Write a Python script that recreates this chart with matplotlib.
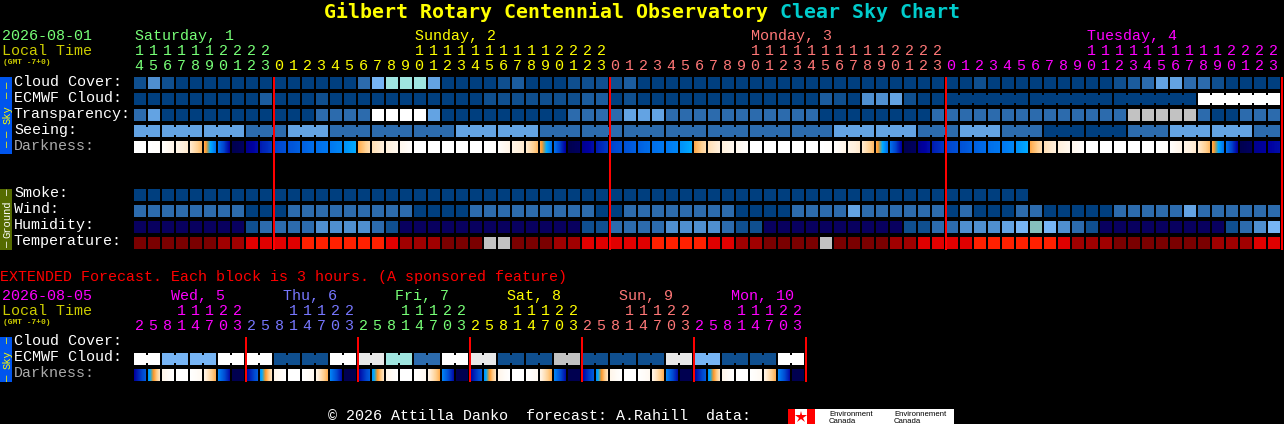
import matplotlib
matplotlib.use("Agg")
import matplotlib.pyplot as plt
import numpy as np
from matplotlib.colors import LinearSegmentedColormap
from matplotlib.patches import Rectangle

# one letter per block, see palette below
cloud_cover = (
    "beb" "aaaaaaaaaaaaa" "dghhhf" "aaaa" "bc" "aaa" "bbbb" "c"
    "aaaaaaaaaaaaaaaaaaaaaa" "aabaaaaaaaaa" "bcdffddbaaaa"
)
ecmwf_cloud = (
    "aaaaaaaaa" "c" "aaa" "b" "aaaaaaaaaaa" "bbbbbbb" "cc" "a" "b" "aaaaaaaaaaaaa"
    "c" "b" "a" "eef" "b" "aa" "aaaaaaaaaaaaaaaaaa" "wwwwww"
)
transparency = (
    "df" "aaaaaaaaaaa" "dddd" "wwww" "f" "aaaaaaaaa" "dddd" "fff" "ddddddddddd"
    "aaaaaaaa" "dddddddddddddd" "xxxxx" "d" "aa" "ddd"
)
seeing = (
    "ff" "fff" "fff" "ddd" "fff" "ddd" "ddd" "ddd" "fff" "fff" "ddd" "ddd" "ddd" "ddd"
    "ddd" "ddd" "ddd" "fff" "fff" "ddd" "fff" "ddd" "aaa" "aaa" "ddd" "fff" "fff" "dd"
)
smoke = "aaaaaaaaaaaaaaaaaaaaaaaaaaaaaaaaaaaaaaaaaaaaaaaaaaaaaaaaaaaaaaaa"
wind = (
    "dddddddd" "aaa" "ddddddddd" "aaaa" "ddddddddd" "aa" "dddddddd" "aaaa" "dddd" "f"
    "dddddd" "a" "d" "aaa" "dd" "aaaaa" "ddddd" "f" "dddddd"
)
humidity = (
    "nnnnnnnn" "b" "dddd" "eeee" "d" "b" "nnnnnnnnnnnnn" "bb" "dddd" "eeee" "d" "bb"
    "nnnnnnnnnn" "bb" "dd" "eee" "f" "g" "q" "g" "e" "d" "b" "nnnnnnnnn" "b" "d" "e" "g"
)
temperature = (
    "rrrrrr" "ss" "tttt" "uuuuuu" "t" "sss" "rrr" "xx" "rrr" "ss" "ttttt" "uuuu" "tt"
    "ss" "rrrr" "x" "rrrr" "ss" "tttt" "uuuuuu" "t" "sss" "rrrrrrr" "sss" "tt"
)

seeing_groups = [2] + [3] * 26 + [2]
ecmwf_groups = [6, 6, 6, 6]

# darkness value at left and right edge of each block (0 night .. 8 full sun)
darkness_left = [
    8, 8, 7.9, 7.3, 6.8, 5.3, 2.8, 0, 0.8, 1.4, 1.9, 2.2, 2.5, 2.8, 3, 3.5, 5.3, 6.5, 7, 7.5, 8, 8, 8, 8,
    8, 8, 7.9, 7.3, 6.8, 5.3, 2.8, 0, 0.8, 1.4, 1.9, 2.2, 2.5, 2.8, 3, 3.5, 5.3, 6.5, 7, 7.5, 8, 8, 8, 8,
    8, 8, 7.9, 7.3, 6.8, 5.3, 2.8, 0, 0.8, 1.4, 1.9, 2.2, 2.5, 2.8, 3, 3.5, 5.3, 6.5, 7, 7.5, 8, 8, 8, 8,
    8, 8, 7.9, 7.3, 6.8, 5.3, 2.8, 0, 0.8, 1.0,
]
darkness_right = [
    8, 7.9, 7.3, 6.8, 5.6, 2.9, 1, 0.2, 1.2, 1.8, 2.2, 2.5, 2.8, 3, 3.3, 4, 6.4, 7, 7.5, 7.9, 8, 8, 8, 8,
    8, 7.9, 7.3, 6.8, 5.6, 2.9, 1, 0.2, 1.2, 1.8, 2.2, 2.5, 2.8, 3, 3.3, 4, 6.4, 7, 7.5, 7.9, 8, 8, 8, 8,
    8, 7.9, 7.3, 6.8, 5.6, 2.9, 1, 0.2, 1.2, 1.8, 2.2, 2.5, 2.8, 3, 3.3, 4, 6.4, 7, 7.5, 7.9, 8, 8, 8, 8,
    8, 7.9, 7.3, 6.8, 5.6, 2.9, 1, 0.2, 1.0, 1.2,
]

hours = [14, 15, 16, 17, 18, 19, 20, 21, 22, 23] + list(range(24)) * 3

# extended forecast, one letter per 6 hour pair, darkness per 3 hour block
ext_ecmwf = "wggwwbbwyhdwybbxbbbygbbw"
ext_hours = [2, 5, 8, 11, 14, 17, 20, 23]
ext_dark_left = [1, 3.6, 7.4, 8, 8, 7.2, 3.2, 0] * 6
ext_dark_right = [2.4, 6.6, 8, 8, 7.6, 5.4, 1.2, 0] * 6

palette = {
    "a": "#003F7F", "b": "#0F4F8F", "c": "#1B5C9E", "d": "#2C6BAD", "e": "#4F8FD0",
    "f": "#63A3E3", "g": "#77B5F5", "h": "#9FE5E0", "w": "#FFFFFF", "x": "#C2C2C2",
    "y": "#E8E8E8", "n": "#08005F", "q": "#85C0BD", "r": "#7A0000", "s": "#A00000",
    "t": "#E00000", "u": "#FF2000",
}
dark_cmap = LinearSegmentedColormap.from_list("dark", [
    (0 / 8, "#000050"), (1 / 8, "#0000A0"), (2 / 8, "#0048D0"), (3 / 8, "#0078F0"),
    (4 / 8, "#00AAFF"), (4.5 / 8, "#80A080"), (5 / 8, "#FF9A2C"), (6 / 8, "#FFD090"),
    (7 / 8, "#FFF0DC"), (8 / 8, "#FFFFFF"),
])

GREEN = "#77FF77"
YELLOW = "#FFFF00"
SALMON = "#FF7777"
MAGENTA = "#FF00FF"
PERI = "#7777FF"
OLIVE_TEXT = "#CCCC00"
X0 = 134
PITCH = 14
FS = 10.8

fig = plt.figure(figsize=(12.84, 4.24), dpi=100, facecolor="black")
ax = fig.add_axes([0, 0, 1, 1])
ax.set_facecolor("black")
ax.axis("off")


def label(x, y, s, color="white", size=FS, **kw):
    kw.setdefault("family", "Liberation Mono")
    ax.text(x, y, s, color=color, fontsize=size, va="baseline", **kw)


def blocks(values, y, groups=None, start=0):
    for i, v in enumerate(values):
        ax.add_patch(Rectangle((X0 + PITCH * i, y), 12, 12, fc=palette[v], lw=0, antialiased=False))
    if groups is None:
        return
    pos = start
    for size in groups:
        for i in range(pos, pos + size - 1):
            ax.add_patch(Rectangle((X0 + PITCH * i + 12, y + 2), 2, 8, fc=palette[values[i]], lw=0, antialiased=False))
        pos += size


def dark_blocks(left, right, y):
    for i, (a, b) in enumerate(zip(left, right)):
        ramp = np.linspace(a, b, 12).reshape(1, -1)
        x = X0 + PITCH * i
        ax.imshow(ramp, cmap=dark_cmap, vmin=0, vmax=8, aspect="auto", interpolation="nearest",
                  extent=(x, x + 12, y + 12, y))


def side_text(y, s, color):
    ax.text(7.5, y, s, color=color, fontsize=7.6, rotation=90, ha="center", va="center", family="Liberation Mono")


# title
label(324, 18, "Gilbert Rotary Centennial Observatory", YELLOW, 14.35, fontweight="bold", family="DejaVu Sans Mono")
label(780, 18, "Clear Sky Chart", "#00CCCC", 14.35, fontweight="bold", family="DejaVu Sans Mono")

# main chart header
label(2, 40, "2026-08-01", GREEN)
label(2, 55, "Local Time", OLIVE_TEXT)
label(3, 64, "(GMT -7+0)", OLIVE_TEXT, 5.7, fontweight="bold")
label(135, 40, "Saturday, 1", GREEN)
label(415, 40, "Sunday, 2", YELLOW)
label(751, 40, "Monday, 3", SALMON)
label(1087, 40, "Tuesday, 4", MAGENTA)

for i, h in enumerate(hours):
    color = GREEN if i < 10 else YELLOW if i < 34 else SALMON if i < 58 else MAGENTA
    x = X0 + PITCH * i + 5
    if h >= 10:
        label(x, 55, str(h // 10), color, ha="center")
    label(x, 70, str(h % 10), color, ha="center")

# sky rows
sky_rows = ["Cloud Cover:", "ECMWF Cloud:", "Transparency:", "Seeing:", "Darkness:"]
for j, name in enumerate(sky_rows):
    label(14, 86 + 16 * j, name, "#AAAAAA" if name == "Darkness:" else "white")
blocks(cloud_cover, 77)
blocks(ecmwf_cloud, 93, ecmwf_groups, start=58)
blocks(transparency, 109)
blocks(seeing, 125, seeing_groups)
dark_blocks(darkness_left, darkness_right, 141)

# ground rows
ground_rows = ["Smoke:", "Wind:", "Humidity:", "Temperature:"]
for j, name in enumerate(ground_rows):
    label(14, 197 + 16 * j, name)
blocks(smoke, 189)
blocks(wind, 205)
blocks(humidity, 221)
blocks(temperature, 237)

# side strips
ax.add_patch(Rectangle((0, 77), 12, 77, fc="#0055EE", lw=0, antialiased=False))
ax.add_patch(Rectangle((0, 189), 12, 61, fc="#556B00", lw=0, antialiased=False))
ax.add_patch(Rectangle((0, 337), 12, 45, fc="#0055EE", lw=0, antialiased=False))
side_text(115, "Sky", YELLOW)
for y in [86, 96, 135, 145]:
    side_text(y, "\u2014", YELLOW)
side_text(219, "Ground", "white")
for y in [193, 245]:
    side_text(y, "\u2014", "white")
side_text(360, "Sky", YELLOW)
for y in [341, 379]:
    side_text(y, "\u2014", YELLOW)

# midnight lines
for x in [273, 609, 945, 1281]:
    ax.add_patch(Rectangle((x, 77), 2, 173, fc="#FF0000", lw=0, antialiased=False, zorder=5))

# extended forecast
label(0, 281, "EXTENDED Forecast. Each block is 3 hours. (A sponsored feature)", "#FF0000")
label(2, 300, "2026-08-05", MAGENTA)
label(2, 315, "Local Time", OLIVE_TEXT)
label(3, 324, "(GMT -7+0)", OLIVE_TEXT, 5.7, fontweight="bold")

ext_days = ["Wed, 5", "Thu, 6", "Fri, 7", "Sat, 8", "Sun, 9", "Mon, 10"]
ext_colors = [MAGENTA, PERI, GREEN, YELLOW, SALMON, MAGENTA]
for d, (name, color) in enumerate(zip(ext_days, ext_colors)):
    label(171 + 112 * d, 300, name, color)
    for k, h in enumerate(ext_hours):
        x = X0 + PITCH * (8 * d + k) + 5
        if h >= 10:
            label(x, 315, str(h // 10), color, ha="center")
        label(x, 330, str(h % 10), color, ha="center")

label(14, 345, "Cloud Cover:")
label(14, 361, "ECMWF Cloud:")
label(14, 377, "Darkness:", "#AAAAAA")

ext_cells = "".join(v + v for v in ext_ecmwf)
blocks(ext_cells, 353, [2] * 24)
dark_blocks(ext_dark_left, ext_dark_right, 369)
for d in range(1, 7):
    ax.add_patch(Rectangle((133 + 112 * d, 337), 2, 45, fc="#FF0000", lw=0, antialiased=False, zorder=5))

# footer
label(328, 420, "\u00a9 2026 Attilla Danko  forecast: A.Rahill  data:")
ax.add_patch(Rectangle((788, 409), 166, 15, fc="white", lw=0, antialiased=False))
ax.add_patch(Rectangle((788, 409), 7, 15, fc="#FF0000", lw=0, antialiased=False))
ax.add_patch(Rectangle((807, 409), 8, 15, fc="#FF0000", lw=0, antialiased=False))
ax.plot([801], [416.5], marker="*", ms=9, color="#FF0000", mew=0)
for x, s in [(829, "Environment"), (894, "Environnement")]:
    ax.text(x, 416, s, color="black", fontsize=5.6, va="baseline", family="Liberation Sans")
    ax.text(x, 423, "Canada", color="black", fontsize=5.6, va="baseline", family="Liberation Sans")

ax.set_xlim(0, 1284)
ax.set_ylim(424, 0)
fig.savefig("out.png", dpi=100, facecolor="black")
